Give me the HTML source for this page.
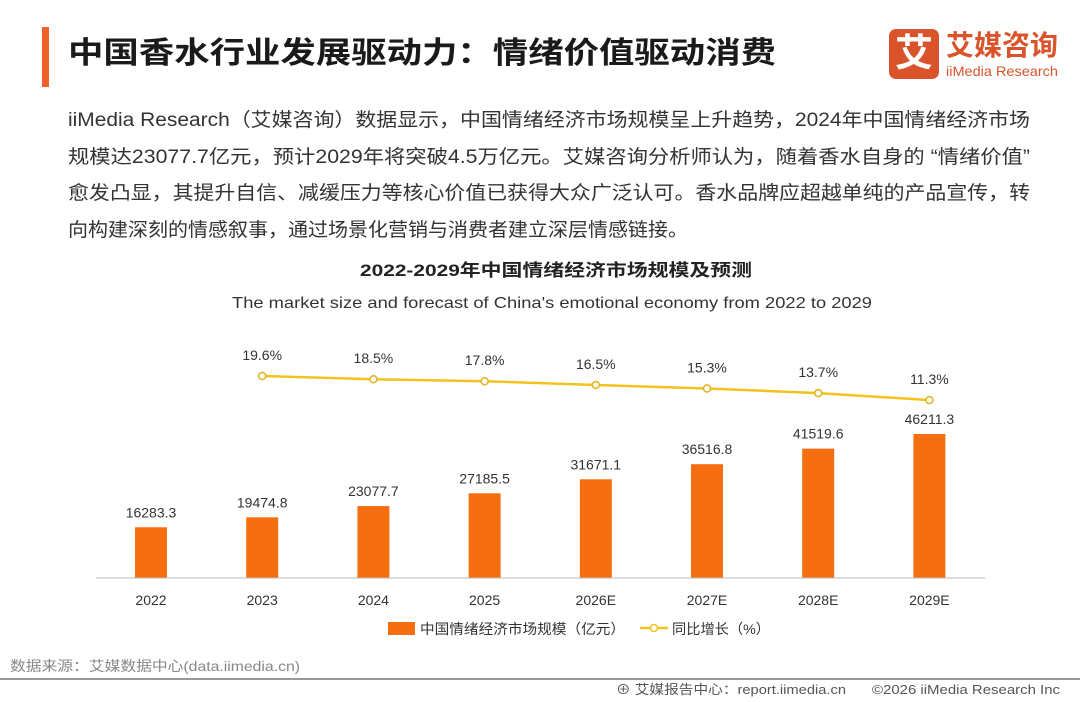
<!DOCTYPE html>
<html><head><meta charset="utf-8"><style>
body{margin:0;width:1080px;height:702px;background:#fff;font-family:"Liberation Sans","Noto Sans CJK SC",sans-serif;position:relative;overflow:hidden;color:#222}
.abs{position:absolute;white-space:nowrap}
svg text{font-family:"Liberation Sans","Noto Sans CJK SC",sans-serif}
</style></head><body>
<div class="abs" style="left:42px;top:27px;width:7px;height:60px;background:#f0622a"></div>
<div class="abs" style="left:889px;top:29px;width:50px;height:50px;background:#d9542b;border-radius:7px;color:#fff;font-size:38px;font-weight:bold;text-align:center;line-height:50px">艾</div>
<svg class="abs" style="left:0;top:0" width="1080" height="702">
<text x="946" y="55" font-size="28" font-weight="bold" fill="#d9542b" textLength="112" lengthAdjust="spacingAndGlyphs">艾媒咨询</text>
<text x="946" y="76" font-size="14" fill="#d9542b" textLength="112" lengthAdjust="spacingAndGlyphs">iiMedia Research</text>
<text x="68" y="63" font-size="30" font-weight="bold" fill="#1a1a1a" textLength="708" lengthAdjust="spacingAndGlyphs">中国香水行业发展驱动力：情绪价值驱动消费</text>
<g font-size="19" fill="#333">
<text x="68" y="126" textLength="962" lengthAdjust="spacingAndGlyphs">iiMedia Research（艾媒咨询）数据显示，中国情绪经济市场规模呈上升趋势，2024年中国情绪经济市场</text>
<text x="68" y="163" textLength="962" lengthAdjust="spacingAndGlyphs">规模达23077.7亿元，预计2029年将突破4.5万亿元。艾媒咨询分析师认为，随着香水自身的 “情绪价值”</text>
<text x="68" y="199" textLength="962" lengthAdjust="spacingAndGlyphs">愈发凸显，其提升自信、减缓压力等核心价值已获得大众广泛认可。香水品牌应超越单纯的产品宣传，转</text>
<text x="68" y="236" textLength="620" lengthAdjust="spacingAndGlyphs">向构建深刻的情感叙事，通过场景化营销与消费者建立深层情感链接。</text>
</g>
<text x="360" y="276" font-size="17" font-weight="bold" fill="#222" textLength="392" lengthAdjust="spacingAndGlyphs">2022-2029年中国情绪经济市场规模及预测</text>
<text x="232" y="308" font-size="16" fill="#333" textLength="640" lengthAdjust="spacingAndGlyphs">The market size and forecast of China's emotional economy from 2022 to 2029</text>
<g id="g"></g>
<line x1="96" y1="578" x2="985" y2="578" stroke="#bbb" stroke-width="1"/>
<rect x="388" y="622" width="27" height="13" fill="#f56e0f"/>
<text x="420" y="634" font-size="14" fill="#333" textLength="205" lengthAdjust="spacingAndGlyphs">中国情绪经济市场规模（亿元）</text>
<line x1="640" y1="628" x2="668" y2="628" stroke="#f2c21e" stroke-width="2.5"/>
<circle cx="654" cy="628" r="3.5" fill="#fff" stroke="#f2c21e" stroke-width="1.5"/>
<text x="672" y="634" font-size="14" fill="#333" textLength="98" lengthAdjust="spacingAndGlyphs">同比增长（%）</text>
<text x="10" y="671" font-size="14" fill="#888" textLength="290" lengthAdjust="spacingAndGlyphs">数据来源：艾媒数据中心(data.iimedia.cn)</text>
<rect x="0" y="678" width="1080" height="2" fill="#999"/>
<text x="616" y="694" font-size="13" fill="#555" textLength="230" lengthAdjust="spacingAndGlyphs">⊕ 艾媒报告中心：report.iimedia.cn</text>
<text x="872" y="694" font-size="13" fill="#555" textLength="188" lengthAdjust="spacingAndGlyphs">©2026  iiMedia Research  Inc</text>
</svg>
<script>
const categories=["2022","2023","2024","2025","2026E","2027E","2028E","2029E"];
const marketSize=[16283.3,19474.8,23077.7,27185.5,31671.1,36516.8,41519.6,46211.3];
const growth=[19.6,18.5,17.8,16.5,15.3,13.7,11.3];
const NS="http://www.w3.org/2000/svg",g=document.getElementById("g");
const xPos=i=>151+i*111.2;
const yBar=v=>578-v*0.003116;
const yLine=v=>376+(19.6-v)*2.9;
function mk(t,a,txt){const e=document.createElementNS(NS,t);for(const k in a)e.setAttribute(k,a[k]);if(txt!=null)e.textContent=txt;g.appendChild(e);return e;}
categories.forEach((c,i)=>{
 const b=mk("rect",{x:xPos(i)-16,y:yBar(marketSize[i]),width:32,height:578-yBar(marketSize[i]),fill:"#f56e0f"});
 
 
 const v=mk("text",{x:xPos(i),y:yBar(marketSize[i])-10,"text-anchor":"middle","font-size":"14",fill:"#333"},marketSize[i].toFixed(1));
 
 
 const t=mk("text",{x:xPos(i),y:605,"text-anchor":"middle","font-size":"14",fill:"#333"},c);
 
 
});
const pts=growth.map((v,i)=>[xPos(i+1),yLine(v)]);
const pl=mk("polyline",{points:pts.map(p=>p.join(",")).join(" "),fill:"none",stroke:"#f2c21e","stroke-width":"2.5"});


growth.forEach((v,i)=>{
 const c=mk("circle",{cx:pts[i][0],cy:pts[i][1],r:3.5,fill:"#fff",stroke:"#e0b31e","stroke-width":"1.5"});
 
 
 const t=mk("text",{x:pts[i][0],y:pts[i][1]-16,"text-anchor":"middle","font-size":"14",fill:"#333"},v.toFixed(1)+"%");
 
 
});
</script>
</body></html>
